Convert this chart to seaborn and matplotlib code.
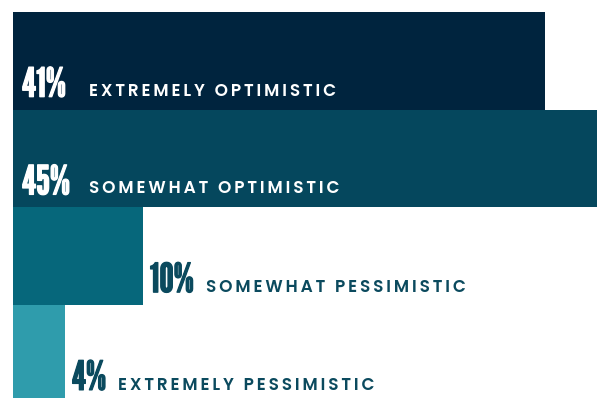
import matplotlib
matplotlib.use("Agg")
import matplotlib.pyplot as plt
import matplotlib.patheffects as pe
import seaborn as sns
import pandas as pd

categories = ["EXTREMELY OPTIMISTIC", "SOMEWHAT OPTIMISTIC",
              "SOMEWHAT PESSIMISTIC", "EXTREMELY PESSIMISTIC"]
values = [41, 45, 10, 4]
bar_colors = ["#00243E", "#05475D", "#06677B", "#2F9CAC"]
inside = [True, True, False, False]

df = pd.DataFrame({"category": categories, "value": values})

sns.set_theme(style="white")
fig = plt.figure(figsize=(5.97, 3.98), dpi=100)
ax = fig.add_axes([13 / 597, 0, 584 / 597, 386 / 398])

sns.barplot(data=df, x="value", y="category", hue="category",
            palette=bar_colors, orient="h", width=1.0, legend=False,
            saturation=1, linewidth=0, ax=ax)

ax.set_xlim(0, 45)
ax.set_ylim(3.45, -0.5)
ax.set_axis_off()

pct_font = dict(family=["League Gothic", "DejaVu Sans"], fontsize=29)
lab_font = dict(family=["Poppins", "DejaVu Sans"], fontsize=12.2,
                fontweight="semibold")


def tracked(s):
    # open up the letter spacing with six-per-em spaces
    return "\u2006".join(s)


text_dark = "#0B4A5E"
for i, (cat, val, ins) in enumerate(zip(categories, values, inside)):
    color = "white" if ins else text_dark
    x0 = 0 if ins else val
    dx = 9 if ins else 7
    pct = ax.annotate(f"{val}%", xy=(x0, i + 0.5), xycoords="data",
                      xytext=(dx, 13), textcoords="offset pixels",
                      ha="left", va="baseline", color=color,
                      annotation_clip=False, **pct_font)
    # heavier figures: outline each glyph in its own colour
    pct.set_path_effects([pe.withStroke(linewidth=0.9, foreground=color)])
    if ins:
        ax.annotate(tracked(cat), xy=(0, i + 0.5), xycoords="data",
                    xytext=(76, 14), textcoords="offset pixels",
                    ha="left", va="baseline", color=color,
                    annotation_clip=False, **lab_font)
    else:
        ax.annotate(tracked(cat), xy=(1, i + 0.5), xycoords=(pct, "data"),
                    xytext=(12, 13), textcoords="offset pixels",
                    ha="left", va="baseline", color=color,
                    annotation_clip=False, **lab_font)

fig.savefig("out.png", dpi=100, facecolor="white")
